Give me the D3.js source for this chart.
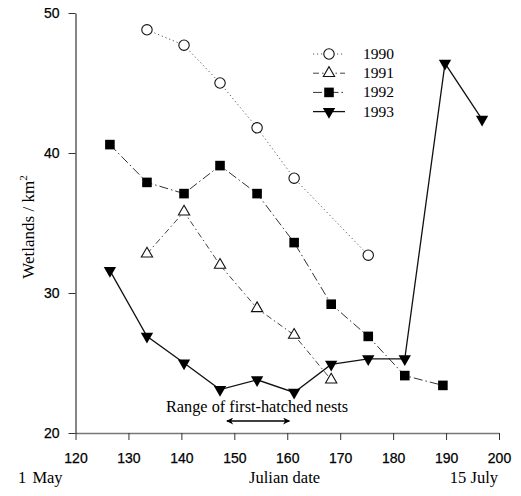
<!DOCTYPE html>
<html>
<head>
<meta charset="utf-8">
<script src="https://cdn.jsdelivr.net/npm/d3@7"></script>
<style>
  body { margin: 0; background: #fff; }
</style>
</head>
<body>
<div class="center"></div>
<script>
// data (Julian date, wetlands / km2)
var x1990 = [133.5, 140.5, 147.3, 154.3, 161.3, 175.3];
var y1990 = [48.8, 47.7, 45.0, 41.8, 38.2, 32.7];

var x1991 = [133.5, 140.5, 147.3, 154.3, 161.3, 168.3];
var y1991 = [32.8, 35.8, 32.0, 28.9, 27.0, 23.8];

var x1992 = [126.5, 133.5, 140.5, 147.3, 154.3, 161.3, 168.3, 175.3, 182.2, 189.4];
var y1992 = [40.6, 37.9, 37.1, 39.1, 37.1, 33.6, 29.2, 26.9, 24.1, 23.4];

var x1993 = [126.5, 133.5, 140.5, 147.3, 154.3, 161.3, 168.3, 175.3, 182.2, 189.8, 196.8];
var y1993 = [31.6, 26.9, 25.0, 23.1, 23.8, 22.9, 24.9, 25.3, 25.3, 46.4, 42.4];

var years = ["1990", "1991", "1992", "1993"];
var xTicks = [120, 130, 140, 150, 160, 170, 180, 190, 200];
var yTicks = [20, 30, 40, 50];
var hatchRange = [148.6, 160.4];

var margin = {top: 13, right: 22, bottom: 63, left: 75.5},
    width = 521 - margin.left - margin.right,
    height = 496 - margin.top - margin.bottom;

var x = d3.scaleLinear().domain([120, 200]).range([0, width]);
var y = d3.scaleLinear().domain([20, 50]).range([height, 0]);

var svg = d3.select(".center").append("svg")
    .attr("width", 521)
    .attr("height", 496)
    .append("g")
    .attr("transform", "translate(" + margin.left + "," + margin.top + ")");

var series = [
  {year: "1990", xs: x1990, ys: y1990, marker: "circle", dash: "1.2,2.8", stroke: "#555", sw: 1},
  {year: "1991", xs: x1991, ys: y1991, marker: "triangle", dash: "6,3,1.5,3", stroke: "#444", sw: 1},
  {year: "1992", xs: x1992, ys: y1992, marker: "square", dash: "9,3,1.5,3", stroke: "#333", sw: 1},
  {year: "1993", xs: x1993, ys: y1993, marker: "triangleDown", dash: null, stroke: "#111", sw: 1.3}
];

var symbols = {
  circle: d3.symbol().type(d3.symbolCircle).size(85),
  triangle: d3.symbol().type(d3.symbolTriangle).size(55),
  square: d3.symbol().type(d3.symbolSquare).size(92),
  triangleDown: d3.symbol().type(d3.symbolTriangle).size(66)
};

function drawMarker(g, type, cx, cy) {
  var p = g.append("path")
      .attr("d", symbols[type]())
      .attr("transform", "translate(" + cx + "," + cy + ")" + (type === "triangleDown" ? " rotate(180)" : ""));
  if (type === "circle" || type === "triangle") {
    p.style("fill", "#fff").style("stroke", "#111").style("stroke-width", 1.1);
  } else {
    p.style("fill", "#000");
  }
}

var line = d3.line()
    .x(function(d) { return x(d[0]); })
    .y(function(d) { return y(d[1]); });

series.forEach(function(s) {
  var pts = s.xs.map(function(v, i) { return [v, s.ys[i]]; });
  svg.append("path")
      .datum(pts)
      .attr("d", line)
      .style("fill", "none")
      .style("stroke", s.stroke)
      .style("stroke-width", s.sw)
      .style("stroke-dasharray", s.dash);
  pts.forEach(function(d) {
    drawMarker(svg, s.marker, x(d[0]), y(d[1]));
  });
});

var sans = "Liberation Sans, Arial, sans-serif";
var serif = "Liberation Serif, Times New Roman, serif";

// X Axis
var xAxis = svg.append("g")
    .attr("transform", "translate(0," + height + ")")
    .call(d3.axisBottom(x).tickValues(xTicks).tickSize(7).tickPadding(13).tickSizeOuter(0));
xAxis.select(".domain").style("stroke", "#777").style("stroke-width", 1.3);
xAxis.selectAll(".tick line").style("stroke", "#333");
xAxis.selectAll("text")
    .style("font-family", sans)
    .style("font-size", "14px")
    .style("fill", "#000")
    .style("stroke", "#000")
    .style("stroke-width", 0.25);

// Y Axis
var yAxis = svg.append("g")
    .call(d3.axisLeft(y).tickValues(yTicks).tickSize(7).tickPadding(9).tickSizeOuter(0));
yAxis.select(".domain").style("stroke", "#222").style("stroke-width", 1.1);
yAxis.selectAll(".tick line").style("stroke", "#333");
yAxis.selectAll("text")
    .style("font-family", sans)
    .style("font-size", "14px")
    .style("fill", "#000")
    .style("stroke", "#000")
    .style("stroke-width", 0.25);

svg.append("text")
    .attr("x", -margin.left + 18)
    .attr("y", height + 50)
    .style("font-family", serif)
    .style("font-size", "16.5px")
    .style("word-spacing", "2px")
    .text("1 May");

svg.append("text")
    .attr("x", x(159.5))
    .attr("y", height + 50)
    .style("text-anchor", "middle")
    .style("font-family", serif)
    .style("font-size", "16.5px")
    .text("Julian date");

svg.append("text")
    .attr("x", x(200) - 1)
    .attr("y", height + 50)
    .style("text-anchor", "end")
    .style("font-family", serif)
    .style("font-size", "16.5px")
    .text("15 July");

var yTitle = svg.append("text")
    .attr("transform", "rotate(-90)")
    .attr("x", -(227 - margin.top))
    .attr("y", -margin.left + 34)
    .style("text-anchor", "middle")
    .style("font-family", serif)
    .style("font-size", "17px");
yTitle.append("tspan").text("Wetlands / km");
yTitle.append("tspan").attr("dy", -7).style("font-size", "11px").text("2");

// annotation
svg.append("text")
    .attr("x", x(154.3))
    .attr("y", y(20) - 21)
    .style("text-anchor", "middle")
    .style("font-family", serif)
    .style("font-size", "16.3px")
    .text("Range of first-hatched nests");

var defs = svg.append("defs");
defs.append("marker")
    .attr("id", "ahead")
    .attr("viewBox", "0 0 10 10")
    .attr("refX", 9).attr("refY", 5)
    .attr("markerWidth", 10).attr("markerHeight", 7)
    .attr("markerUnits", "userSpaceOnUse")
    .attr("orient", "auto-start-reverse")
    .append("path")
    .attr("d", "M0,0 L10,5 L0,10 L3,5 Z")
    .style("fill", "#000");

svg.append("line")
    .attr("x1", x(hatchRange[0])).attr("x2", x(hatchRange[1]))
    .attr("y1", y(20) - 12).attr("y2", y(20) - 12)
    .style("stroke", "#000")
    .style("stroke-width", 1.3)
    .attr("marker-start", "url(#ahead)")
    .attr("marker-end", "url(#ahead)");

// legend
var legend = svg.append("g").attr("class", "legend");
var lx = 313 - margin.left, lx2 = 345 - margin.left, ly0 = 54 - margin.top;
series.forEach(function(s, i) {
  var yy = ly0 + i * 19.2;
  legend.append("line")
      .attr("x1", lx).attr("x2", lx2)
      .attr("y1", yy).attr("y2", yy)
      .style("stroke", s.stroke)
      .style("stroke-width", s.sw)
      .style("stroke-dasharray", s.dash);
  drawMarker(legend, s.marker, (lx + lx2) / 2, yy);
  legend.append("text")
      .attr("x", 363 - margin.left)
      .attr("y", yy + 5)
      .style("font-family", serif)
      .style("font-size", "15.5px")
      .text(years[i]);
});
</script>
</body>
</html>
